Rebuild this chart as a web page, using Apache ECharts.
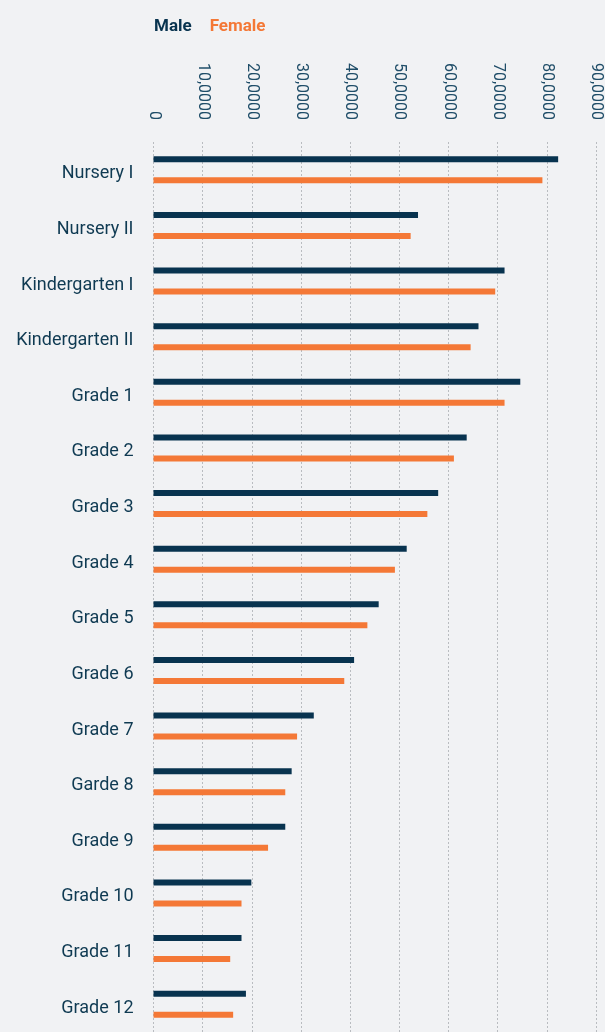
<!DOCTYPE html>
<html>
<head>
<meta charset="utf-8">
<script src="https://cdn.jsdelivr.net/npm/echarts@6/dist/echarts.min.js"></script>
<style>
html,body{margin:0;padding:0;background:#f1f2f4;}
#c{width:605px;height:1032px;}
</style>
</head>
<body>
<div id="c"></div>
<script>
var categories = ['Nursery I','Nursery II','Kindergarten I','Kindergarten II','Grade 1','Grade 2','Grade 3','Grade 4','Grade 5','Grade 6','Grade 7','Garde 8','Grade 9','Grade 10','Grade 11','Grade 12'];
var maleValues = [82300, 53800, 71400, 66100, 74600, 63700, 57900, 51500, 45800, 40800, 32600, 28100, 26800, 19900, 17900, 18800];
var femaleValues = [79100, 52300, 69500, 64500, 71400, 61100, 55700, 49100, 43500, 38800, 29200, 26800, 23300, 17900, 15600, 16200];
var xTickLabels = ['0','10,0000','20,0000','30,0000','40,0000','50,0000','60,0000','70,0000','80,0000','90,0000'];

var MALE = '#08334f', FEMALE = '#f47836';
var chart = echarts.init(document.getElementById('c'));
chart.setOption({
  backgroundColor: '#f1f2f4',
  animation: false,
  textStyle: {fontFamily: 'Roboto'},
  legend: {
    left: 144, top: 13,
    icon: 'none', itemWidth: 0, itemGap: 13,
    data: [
      {name: 'Male', textStyle: {color: MALE}},
      {name: 'Female', textStyle: {color: FEMALE}}
    ],
    textStyle: {fontFamily: 'Roboto', fontWeight: 'bold', fontSize: 17}
  },
  grid: {left: 153.5, right: 9, top: 142, height: 892, containLabel: false},
  xAxis: {
    type: 'value', position: 'top', min: 0, max: 90000, interval: 10000,
    axisLine: {show: false}, axisTick: {show: false},
    axisLabel: {
      rotate: 90, margin: 22, color: '#1f4d68', fontSize: 16, fontFamily: 'Roboto',
      formatter: function (v) { return xTickLabels[Math.round(v / 10000)]; }
    },
    splitLine: {show: true, lineStyle: {color: '#b9bcc0', type: [2, 2], width: 1}}
  },
  yAxis: {
    type: 'category', inverse: true, data: categories,
    axisLine: {show: false}, axisTick: {show: false},
    axisLabel: {
      margin: 20,
      formatter: function (v) { return '{a|' + v + '}'; },
      rich: {a: {color: '#0f3a52', fontSize: 18, fontFamily: 'Roboto', padding: [8, 0, 0, 0]}}
    }
  },
  series: [
    {name: 'Male', type: 'bar', data: maleValues, barWidth: 6, barGap: '250%', itemStyle: {color: MALE}},
    {name: 'Female', type: 'bar', data: femaleValues, barWidth: 6, itemStyle: {color: FEMALE}}
  ]
});
</script>
</body>
</html>
